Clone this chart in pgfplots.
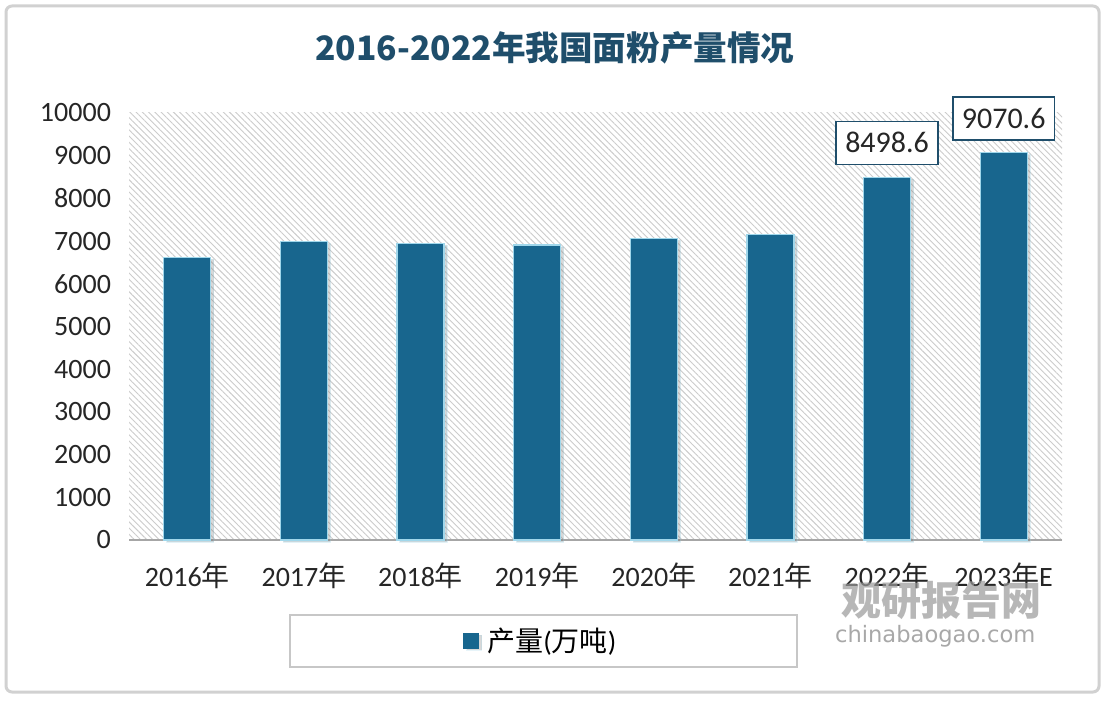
\documentclass[border=0pt]{standalone}
\usepackage{pgfplots}
\pgfplotsset{compat=1.18}
\usepackage{fontspec}
\setmainfont{Carlito}
\newfontfamily\cjk{Noto Sans CJK SC}
\newfontfamily\dvs{DejaVu Sans}
\usetikzlibrary{patterns.meta,shadows}
\definecolor{barc}{RGB}{24,102,142}
\definecolor{titc}{RGB}{31,78,107}
\begin{document}
\begin{tikzpicture}
\useasboundingbox (0,0) rectangle (553pt,-352pt);
\fill[white] (0,0) rectangle (553pt,-352pt);
\draw[black!18, line width=1.5pt, rounded corners=3pt] (3pt,-3pt) rectangle (549.5pt,-346pt);
\node[font=\cjk\bfseries\fontsize{16.8}{20}\selectfont, text=titc] at (277.5pt,-24pt) {2016-2022年我国面粉产量情况};
\draw[black!22, line width=0.6pt] (145pt,-307.5pt) rectangle (398.5pt,-333.5pt);
\begin{axis}[
  at={(64.5pt,-270pt)}, anchor=south west, scale only axis,
  width=466.5pt, height=213.5pt,
  xmin=-0.5, xmax=7.5, ymin=0, ymax=10000,
  ytick={0,1000,...,10000},
  xtick={0,...,7},
  xticklabels={2016{\cjk 年},2017{\cjk 年},2018{\cjk 年},2019{\cjk 年},2020{\cjk 年},2021{\cjk 年},2022{\cjk 年},2023{\cjk 年}E},
  axis x line=bottom, axis y line=left,
  x axis line style={black!35, line width=1pt, -},
  y axis line style={draw=none},
  major tick length=0pt,
  scaled y ticks=false,
  /pgf/number format/fixed,
  /pgf/number format/1000 sep={},
  /pgf/number format/assume math mode=true,
  yticklabel style={xshift=-5.5pt},
  xticklabel style={yshift=-8pt},
  ticklabel style={font=\fontsize{14}{16}\selectfont, text=black!85},
  axis background/.style={pattern={Lines[angle=-45,distance=2.2pt,line width=0.45pt]}, pattern color=black!20},
  ybar, bar width=23.5pt,
  clip=false,
  legend style={at={(0.4425,-0.2365)}, anchor=center, draw=none, fill=none, font=\fontsize{14}{16}\selectfont},
]
\addplot[bar shift=0pt, fill=barc, draw={rgb,255:red,160;green,215;blue,235}, line width=0.6pt,
  drop shadow={shadow xshift=1.5pt, shadow yshift=-1pt, opacity=0.25, fill=black!60},
  legend image code/.code={\fill[barc] (0pt,-3.75pt) rectangle (7.5pt,3.75pt);}]
  coordinates {(0,6619) (1,6986) (2,6948) (3,6908) (4,7065) (5,7150) (6,8498.6) (7,9070.6)};
\addlegendentry{\hspace{2pt}{\cjk 产量}({\cjk 万吨})}
\addplot[bar shift=0pt, draw=none, fill=none, forget plot, point meta=explicit symbolic, nodes near coords,
  every node near coord/.style={draw=titc, fill=white, line width=0.8pt, font=\fontsize{15}{17}\selectfont, text=black!85, inner xsep=4.5pt, minimum height=21.5pt, anchor=south, yshift=6pt}]
  coordinates {(6,8498.6) [8498.6] (7,9070.6) [9070.6]};
\end{axis}
\node[font=\cjk\bfseries\fontsize{20}{22}\selectfont, text=black!40, opacity=0.7, anchor=west] at (417pt,-300pt) {观研报告网};
\node[font=\dvs\fontsize{11.3}{13}\selectfont, text=black!45, opacity=0.75, anchor=west] at (414pt,-318pt) {chinabaogao.com};
\end{tikzpicture}
\end{document}
